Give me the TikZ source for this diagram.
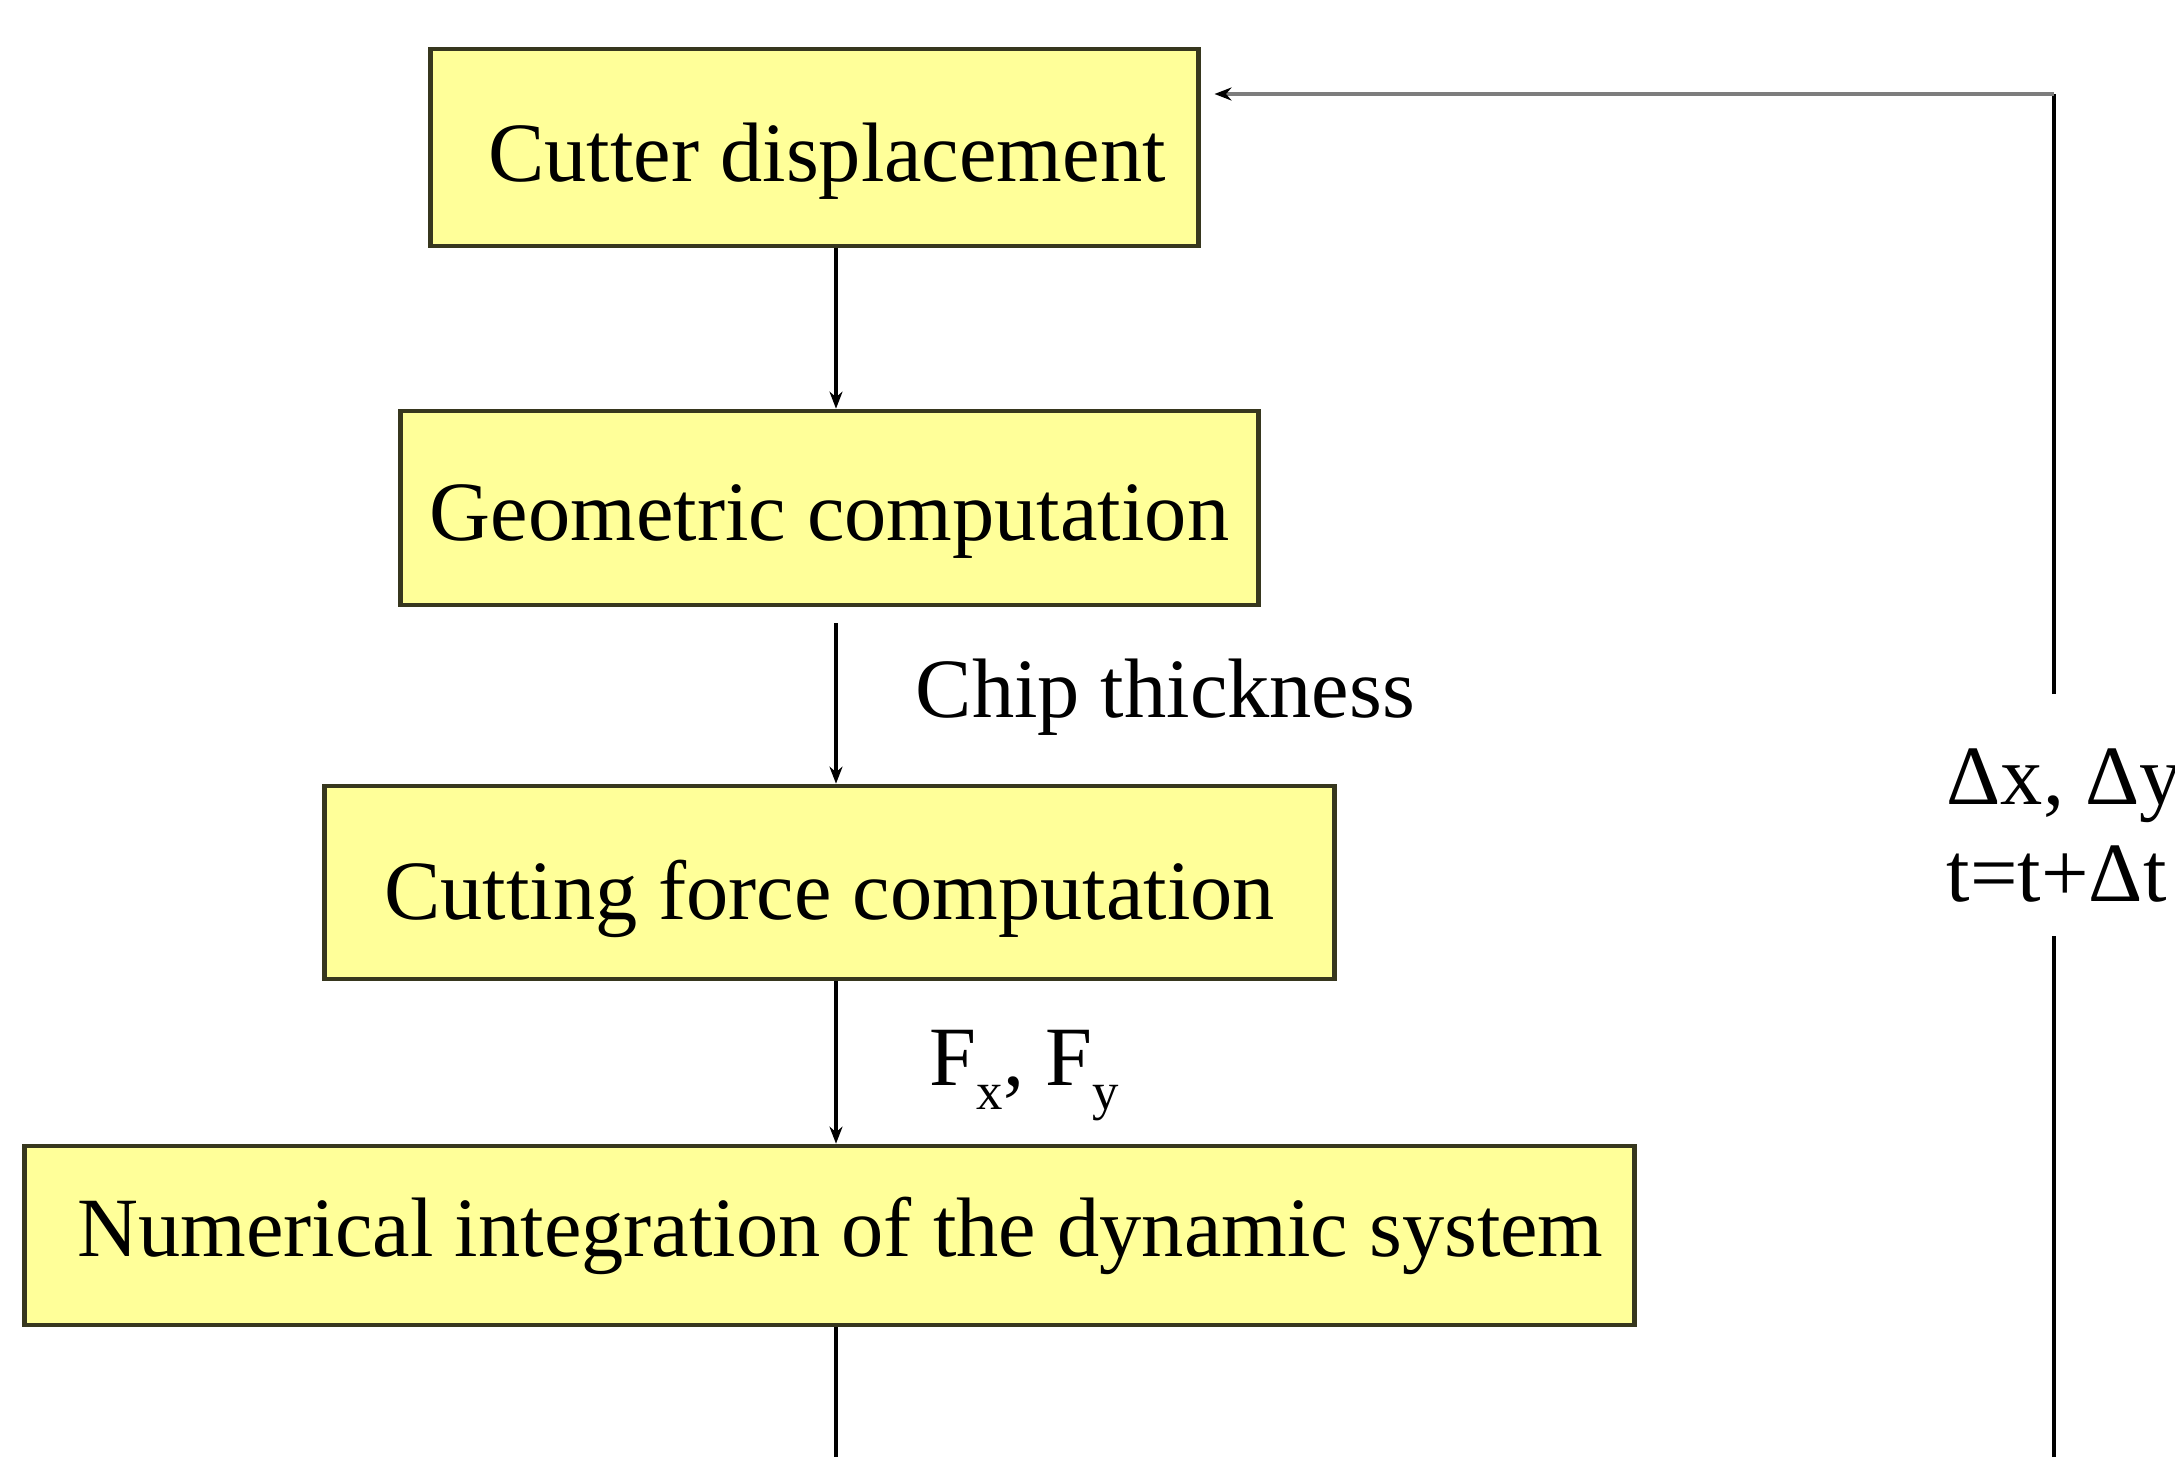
\documentclass[tikz,border=0pt]{standalone}
\usepackage{fontspec}
\setmainfont{Liberation Serif}
\usetikzlibrary{arrows.meta}
\definecolor{boxfill}{RGB}{255,255,153}
\definecolor{boxline}{RGB}{55,55,30}
\definecolor{toparrow}{RGB}{125,125,125}
\newcommand\mysub[1]{\raisebox{-7pt}{\fontsize{15}{15}\selectfont #1}}
\tikzset{
  procbox/.style={draw=boxline, fill=boxfill, line width=1.3pt, inner sep=0pt,
    font=\fontsize{24}{28}\selectfont, align=center},
  flowarrow/.style={line width=0.9pt, -{Stealth[length=0.17cm,width=0.13cm]}},
  plainline/.style={line width=0.9pt},
  lbl/.style={font=\fontsize{24}{28}\selectfont, inner sep=0pt}
}
\begin{document}
\begin{tikzpicture}[x=0.01cm,y=-0.01cm]
\useasboundingbox (0,0) rectangle (2175,1457);
\fill[white] (0,0) rectangle (2175,1457);
\node[procbox, minimum width=7.67cm, minimum height=1.97cm, text height=24.2pt, text depth=5pt] (b1) at (814.5,147.5) {\hspace*{0.25cm}Cutter displacement};
\node[procbox, minimum width=8.57cm, minimum height=1.94cm, text height=23.2pt, text depth=5pt] (b2) at (829.5,508) {Geometric computation};
\node[procbox, minimum width=10.09cm, minimum height=1.93cm, text height=26.2pt, text depth=5pt] (b3) at (829.5,882.5) {Cutting force computation};
\node[procbox, minimum width=16.09cm, minimum height=1.79cm] (b4) at (829.5,1235.5) {\hspace*{0.22cm}Numerical integration of the dynamic system};
\coordinate (sx) at (836,0);
\coordinate (bot) at (836,1457);
\coordinate (rb) at (2054,1457);
\coordinate (g2) at (2054,936);
\coordinate (g1) at (2054,694);
\coordinate (rt) at (2054,94);
\draw[flowarrow] (b1.south -| sx) -- (b2.north -| sx);
\draw[flowarrow, shorten <=0.16cm] (b2.south -| sx) -- (b3.north -| sx);
\draw[flowarrow] (b3.south -| sx) -- (b4.north -| sx);
\draw[plainline] (b4.south -| sx) -- (bot);
\draw[plainline] (rb) -- (g2);
\draw[plainline] (g1) -- (rt);
\draw[line width=1.2pt, draw=toparrow, -{Stealth[length=0.17cm,width=0.13cm,color=black]}, shorten >=0.14cm] (rt) -- (b1.east |- rt);
\node[lbl, anchor=base west] (chip) at (915,717) {Chip thickness};
\node[lbl, anchor=base west] (fxy) at (929,1085) {F\mysub{x}, F\mysub{y}};
\node[lbl, anchor=base west] (dxy) at (1946,804) {Δx, Δy};
\node[lbl, anchor=base west] (tdt) at (1946,901) {t=t+Δt};
\end{tikzpicture}
\end{document}
